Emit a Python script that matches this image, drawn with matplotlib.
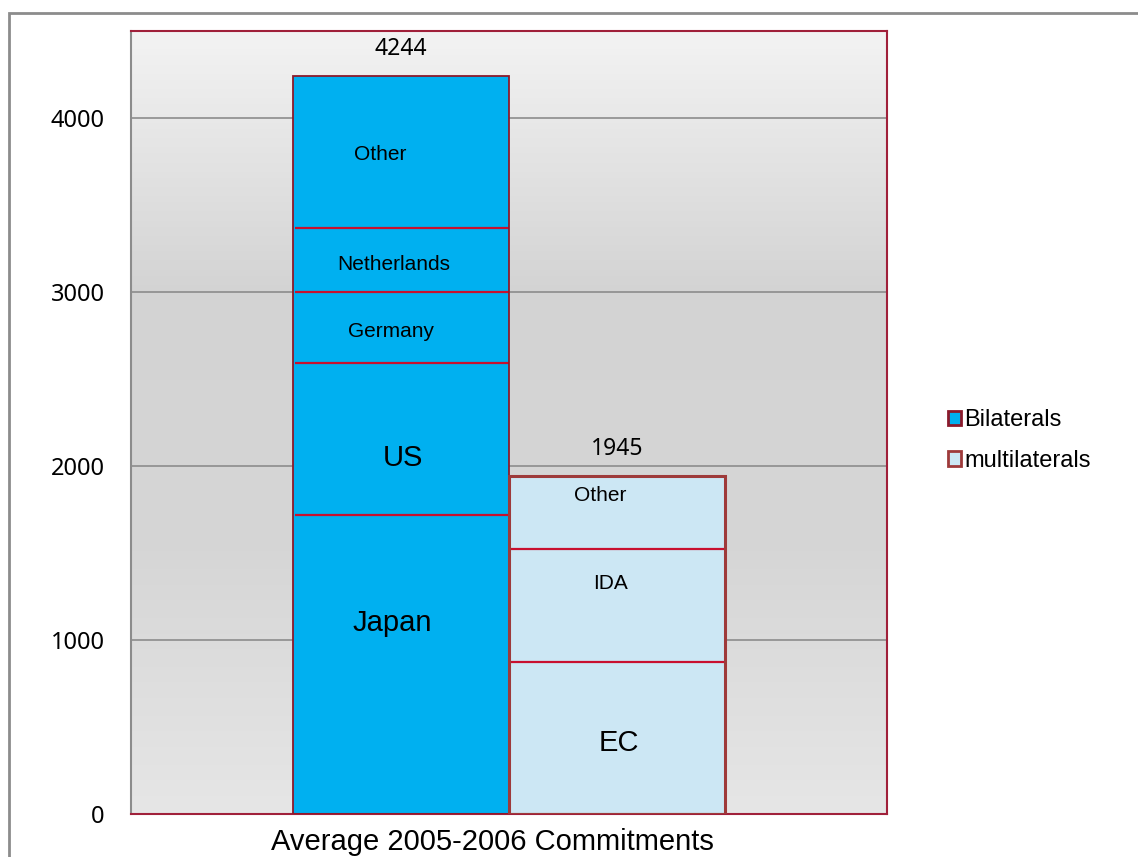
import numpy as np
import matplotlib.pyplot as plt
from matplotlib.colors import LinearSegmentedColormap
from matplotlib.patches import Rectangle

# stacked segments, bottom to top
bi_labels = ['Japan', 'US', 'Germany', 'Netherlands', 'Other']
bi_values = [1718, 874, 408, 368, 876]
multi_labels = ['EC', 'IDA', 'Other']
multi_values = [874, 649, 422]
series = ['Bilaterals', 'multilaterals']
category = 'Average 2005-2006 Commitments'

fig = plt.figure(figsize=(11.38, 8.57), dpi=100)
ax = fig.add_axes([131 / 1138, 43 / 857, 756 / 1138, 783 / 857])

# outer chart frame
fig.patches.append(Rectangle((9 / 1138, -0.1), 1.2, 1.1 - 13 / 857, transform=fig.transFigure,
                             fill=False, edgecolor='#8c8c8c', lw=2))

ax.set_xlim(-0.5, 0.5)
ax.set_ylim(0, 4500)

# gradient background
cmap = LinearSegmentedColormap.from_list('bg', ['#e6e6e6', '#d6d6d6', '#d3d3d3', '#f3f3f3'])
grad = np.linspace(0, 1, 256).reshape(-1, 1)
ax.imshow(grad, extent=(-0.5, 0.5, 0, 4500), origin='lower', aspect='auto', cmap=cmap, zorder=0)

ax.set_yticks(range(0, 4001, 1000))
ax.yaxis.grid(True, color='#8c8c8c', lw=1.2)
ax.set_axisbelow(True)
ax.tick_params(axis='y', length=0, pad=19, labelsize=17)
for lab in ax.get_yticklabels():
    lab.set_fontfamily('Noto Sans')

w = 0.2857
xb, xm = -w / 2, w / 2

def draw_stack(x, vals, labels, face, edge, elw, big, dx, dy):
    bottoms = np.concatenate([[0], np.cumsum(vals)[:-1]])
    ax.bar(x, vals, w, bottom=bottoms, color=face, edgecolor='none', zorder=2)
    ax.bar(x, sum(vals), w, fill=False, edgecolor=edge, lw=elw, zorder=4)
    for top in np.cumsum(vals)[:-1]:
        ax.hlines(top, x - w / 2 + 0.003, x + w / 2, color='#c8102e', lw=1.6, zorder=3)
    for i, (b, v, name) in enumerate(zip(bottoms, vals, labels)):
        ax.text(x + dx[i], b + v / 2 + dy[i], name, ha='center', va='center',
                fontsize=21 if name in big else 15, family='Liberation Sans', zorder=5)
    ax.text(x, sum(vals) + 150, str(sum(vals)), ha='center', va='center',
            fontsize=16.5, family='Noto Sans', zorder=5)

draw_stack(xb, bi_values, bi_labels, '#00b0f0', '#8b1a2b', 1.3, ['Japan', 'US'],
           [-0.012, 0.003, -0.013, -0.01, -0.028], [240, -110, -25, -25, -15])
draw_stack(xm, multi_values, multi_labels, '#cce7f4', '#9e3a3a', 2.2, ['EC'],
           [0.003, -0.008, -0.022], [-30, 125, 95])

ax.set_xticks([])
ax.text(-0.0225, -0.036, category, transform=ax.get_xaxis_transform(), ha='center', va='center',
        fontsize=21, family='Liberation Sans')

for s in ['top', 'right', 'bottom']:
    ax.spines[s].set_color('#a0203a')
    ax.spines[s].set_linewidth(1.5)
ax.spines['left'].set_color('#8c8c8c')
ax.spines['left'].set_linewidth(1.5)

handles = [Rectangle((0, 0), 1, 1, facecolor='#00b0f0', edgecolor='#8b1a2b', lw=2),
           Rectangle((0, 0), 1, 1, facecolor='#cce7f4', edgecolor='#9e3a3a', lw=2)]
leg = ax.legend(handles, series, loc='center left', bbox_to_anchor=(1.053, 0.477),
                frameon=False, handlelength=0.55, handleheight=0.55, handletextpad=0.12,
                labelspacing=0.8, prop={'family': 'Liberation Sans', 'size': 17})

fig.savefig('out.png', dpi=100)
